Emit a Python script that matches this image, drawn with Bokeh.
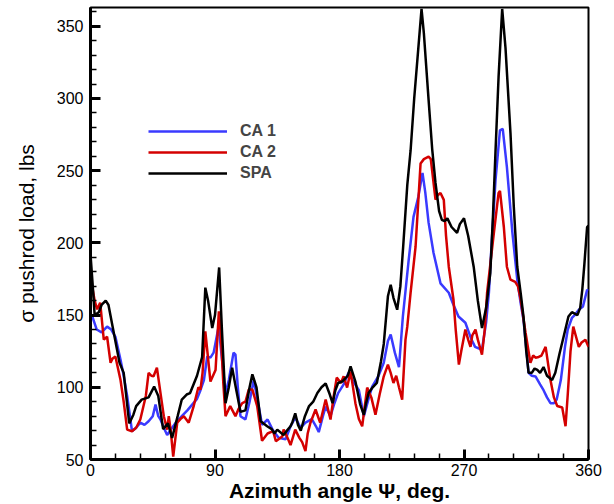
from bokeh.plotting import figure
from bokeh.models import Range1d, FixedTicker, Legend
from bokeh.embed import file_html
from bokeh.resources import INLINE

# ---------------- data ----------------
x_ticks = [0, 90, 180, 270, 360]
y_ticks = [50, 100, 150, 200, 250, 300, 350]
series_names = ["CA 1", "CA 2", "SPA"]

ca1_deg = [0, 1, 4.5, 8, 12, 15, 18, 21.7, 24, 26.5, 30, 33, 36, 39, 42, 45, 47, 49, 50.6, 53,
           55.4, 59, 62, 66, 70, 73.5, 77, 79.5, 82, 84.4, 86.7, 89, 92.6, 95, 97.6, 100, 103.4,
           104.8, 106.5, 108.4, 112, 115, 118, 121, 124, 128, 132, 136, 141, 144.6, 148, 152,
           155.4, 160, 163, 165, 168, 170, 173.5, 176, 179, 183, 186.5, 190, 194, 197.6, 201,
           203.6, 208, 212, 215, 217, 220, 223, 225.8, 230, 233.5, 237, 240, 242, 244.4, 248,
           253, 259, 262, 266, 271, 275, 278, 283, 286, 288, 290, 292.8, 296, 298, 301, 305,
           308.5, 311, 313, 316.7, 319, 321.7, 325, 327.5, 330, 332.5, 335, 337, 340, 343, 345,
           348, 350, 353, 356, 359, 360]
ca1_load = [150, 150, 140, 138, 142, 140, 135, 119, 108, 94, 69.6, 72, 75.5, 74, 76.5, 80, 88, 80,
            77.7, 72, 67, 72, 76, 80, 84, 88, 92, 98, 105, 121.4, 120.5, 124, 142, 120, 96, 105,
            124, 122.6, 100, 80, 77.7, 90, 105, 90, 74, 77.7, 70, 65, 64, 73, 79, 72, 75.5, 78,
            73, 69, 80, 86.6, 80, 88, 96, 102, 110, 104, 98, 80, 92, 100.5, 107.5, 117, 132,
            136.5, 124, 114, 149, 188, 218, 232, 248.5, 235, 214, 193, 172, 165.5, 158, 149,
            144.7, 134, 128, 126, 145, 165.5, 200, 243.6, 278, 279, 252.6, 207, 174.5, 158,
            146.8, 110, 108, 107.5, 102, 98, 93, 89, 89, 91.5, 105, 128, 140, 148, 150, 153.7,
            156, 167.5, 167]

ca2_deg = [0, 1.4, 3, 4.8, 7, 9.6, 12, 14.5, 16, 18, 21.7, 24, 26.5, 30, 33, 36, 40, 42, 44,
           45.6, 48, 50.6, 53, 55.4, 56.6, 58, 59.8, 62.7, 65, 67.5, 71, 74.6, 78, 79.5, 81, 83,
           85, 86.7, 90.4, 92.8, 94, 96, 97.6, 101, 104.8, 107, 109.7, 112, 114.4, 117, 120.5,
           124, 128, 132, 134, 138.6, 139.6, 142, 144.6, 148, 151, 153, 155.4, 157, 159, 162.7,
           166, 170, 173.5, 176, 178, 181, 183, 185.5, 188, 191.5, 194, 196.4, 200, 203, 206,
           209, 212, 215, 217, 219, 221, 223, 225.3, 227.7, 229, 231.4, 235, 238.6, 241, 244.4,
           246, 249.4, 251, 253, 255.4, 257, 259, 262.4, 264, 266.3, 268, 271, 273, 274.7, 276,
           278.3, 280, 283, 285, 286.7, 289, 291.6, 295, 296, 298.8, 301, 303.6, 307, 309, 311,
           314.5, 318, 320, 321.7, 324, 326, 329, 332.5, 335, 337.4, 341, 343.4, 345, 347, 349,
           351, 353, 355, 357.8, 360]
ca2_load = [172, 169, 160, 154, 158.6, 133, 135, 117, 120, 121.4, 105, 90, 70.7, 69.6, 72, 77.7,
            94, 110, 108, 107.6, 113.6, 96, 80, 70.7, 80, 70, 52, 75.5, 78, 80, 75.5, 87, 100,
            98.4, 110, 138.7, 120, 104, 112, 152.6, 140, 103, 80, 87, 80, 85, 89, 90, 98.4, 98.4,
            87, 63, 68, 69.6, 62.7, 66, 70.7, 66, 60, 70.7, 65, 62, 55.8, 68, 75.5, 84.6, 75.5,
            91.5, 77.7, 95, 106.7, 103, 107.6, 99.8, 111, 89, 78, 73, 99.8, 93, 81, 95, 107.6,
            115.7, 110, 103, 108, 100, 91.5, 133, 142, 165.5, 197.5, 255, 258, 259.7, 258, 230,
            233, 234.6, 229.8, 205, 183.5, 160.6, 140, 115.7, 125, 140, 133, 128, 136, 140, 133,
            122.6, 140, 165.5, 185, 207, 234.6, 236, 211, 183.5, 174.5, 173, 170, 160.6, 137.8,
            117, 122, 120.5, 121, 122, 128, 105, 93, 87, 86, 73, 95, 125, 142, 135, 128, 131,
            133, 128]

spa_deg = [0, 1.5, 3, 6, 8, 11, 13, 16, 21, 24, 28, 31, 33, 37, 42, 46, 49, 52.5, 56, 59, 63,
           66, 69.5, 72, 77, 80.7, 83, 85, 88, 90, 93, 95, 97.6, 100, 102.4, 105, 108.4, 112,
           115, 117, 120, 123, 127.7, 131, 133, 135, 139.6, 142, 144.6, 146, 148, 150, 152, 155,
           158, 161, 164, 167, 170, 173, 175, 177, 179, 182, 184, 186, 188, 191.5, 195, 197.6,
           199, 201, 204, 207, 210, 212, 215, 217, 219, 221.7, 224, 226, 229, 231.4, 234, 237,
           239.3, 241, 244.4, 247, 249.4, 252, 254, 256, 258, 261, 265, 267, 270, 273, 277, 280,
           283, 286, 289, 291, 292.8, 295, 297.6, 300, 303.6, 306, 308.5, 311, 313, 315, 316.7,
           319, 321, 323, 325, 327.5, 330, 333.7, 336, 339, 342, 345.5, 348, 350, 352, 354,
           355.5, 357, 359, 360]
spa_load = [192, 172, 150, 152, 157, 160, 157, 142, 117, 110, 75, 81, 87, 91.5, 93, 100.5, 94,
            71, 75, 65, 80, 91.5, 95, 96, 108, 121, 169, 160, 141, 150, 183, 140, 89, 100, 113.6,
            100, 83, 84, 100, 109, 100, 76.5, 73, 71, 68, 70.7, 67, 70, 73, 76, 82, 74, 70, 80,
            87, 90, 96, 100, 102.6, 95, 89, 98, 103, 104, 106, 108, 114.5, 104, 88, 81, 88, 96,
            100, 103, 118, 130, 163, 171, 162, 153.7, 170, 197, 240, 264, 300, 335, 362, 345,
            299, 265, 241.5, 222, 216, 215, 217, 211, 207, 213, 217, 205, 183.5, 160, 141, 155,
            179, 220, 264, 315, 362, 335, 276, 225, 183.5, 165, 149, 125, 110, 110, 113, 112,
            110, 114, 108, 105, 110, 123, 135, 149, 152, 151, 150, 155, 167.5, 185, 211, 212]

FONT = "Liberation Sans"

p = figure(width=614, height=504, output_backend="svg", toolbar_location=None,
           x_range=Range1d(0, 360), y_range=Range1d(50, 363),
           min_border_left=90, min_border_right=26, min_border_top=7, min_border_bottom=44)

p.background_fill_color = "white"
p.border_fill_color = "white"
p.outline_line_color = "black"
p.outline_line_width = 2
p.grid.visible = False

r1 = p.line(ca1_deg, ca1_load, line_color="#3a3aff", line_width=2.5)
r2 = p.line(ca2_deg, ca2_load, line_color="#d40000", line_width=2.5)
r3 = p.line(spa_deg, spa_load, line_color="black", line_width=2.5)

legend = Legend(items=[(series_names[0], [r1]), (series_names[1], [r2]), (series_names[2], [r3])],
                location=(58, 277), padding=0, margin=0, spacing=3,
                glyph_width=79, glyph_height=18, label_height=18, label_standoff=13,
                label_text_font=FONT, label_text_font_style="bold", label_text_font_size="16px",
                background_fill_alpha=0, border_line_alpha=0)
p.add_layout(legend)

for ax in (p.xaxis[0], p.yaxis[0]):
    ax.axis_line_width = 3
    ax.axis_line_color = "black"
    ax.major_tick_in = 10
    ax.major_tick_out = 0
    ax.minor_tick_in = 6
    ax.minor_tick_out = 0
    ax.major_tick_line_width = 3
    ax.minor_tick_line_width = 1.5
    ax.major_label_text_font = FONT
    ax.major_label_text_font_size = "16px"
    ax.major_label_text_color = "black"
    ax.axis_label_text_font = FONT
    ax.axis_label_text_color = "black"

p.xaxis.ticker = FixedTicker(ticks=x_ticks, minor_ticks=list(range(0, 361, 18)))
p.yaxis.ticker = FixedTicker(ticks=y_ticks, minor_ticks=list(range(50, 364, 10)))

p.xaxis.axis_label = "Azimuth angle \u03a8, deg."
p.xaxis.axis_label_text_font_style = "bold"
p.xaxis.axis_label_text_font_size = "21px"
p.xaxis.major_label_standoff = 4
p.xaxis.axis_label_standoff = 0

p.yaxis.axis_label = "\u03c3 pushrod load, lbs"
p.yaxis.axis_label_text_font_style = "normal"
p.yaxis.axis_label_text_font_size = "21px"
p.yaxis.major_label_standoff = 7
p.yaxis.axis_label_standoff = 16

open("out.html", "w").write(file_html(p, INLINE))
